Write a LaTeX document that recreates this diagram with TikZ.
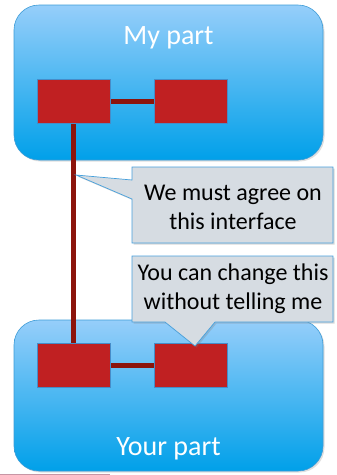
\documentclass[tikz,border=0pt]{standalone}
\usepackage{fontspec}
\setmainfont{Carlito}
\usetikzlibrary{shadows}

\definecolor{skytop}{RGB}{150,206,250}
\definecolor{skybottom}{RGB}{0,160,233}
\definecolor{skyedge}{RGB}{60,155,214}
\definecolor{blockred}{RGB}{192,32,34}
\definecolor{blockedge}{RGB}{70,140,200}
\definecolor{wirered}{RGB}{140,20,12}
\definecolor{notefill}{RGB}{214,220,226}
\definecolor{noteedge}{RGB}{70,160,220}
\definecolor{rulepink}{RGB}{200,150,165}

\tikzset{
  part/.style={draw=skyedge, line width=0.6pt, rounded corners=25pt,
    top color=skytop, bottom color=skybottom,
    drop shadow={opacity=0.25, shadow xshift=1.5pt, shadow yshift=-1.5pt},
    minimum width=309pt, inner sep=0pt},
  partlabel/.style={text=white, font=\fontsize{28}{32}\selectfont, inner sep=0pt},
  block/.style={fill=blockred, draw=blockedge, line width=0.6pt,
    minimum width=73pt, minimum height=44pt, inner sep=0pt},
  wire/.style={draw=wirered, line width=5pt},
  note/.style={fill=notefill, draw=noteedge, line width=0.7pt, line join=miter,
    drop shadow={opacity=0.3, shadow xshift=1.5pt, shadow yshift=-1.5pt}},
  notetext/.style={align=center, font=\fontsize{24}{29}\selectfont, inner sep=0pt}
}

\begin{document}
\begin{tikzpicture}[x=1pt, y=-1pt]
  \useasboundingbox (0,0) rectangle (337,475);

  % thin rule along the lower edge
  \draw[rulepink, line width=1pt] (0,474) -- (110,474);

  % the two parts
  \node[part, minimum height=155pt] (mine) at (168.5,82.5) {};
  \node[part, minimum height=151pt] (yours) at (168.5,395.5) {};
  \node[partlabel] (minelbl) at (168.5,38) {My part};
  \node[partlabel] (yourslbl) at (168.5,449) {Your part};

  % wiring behind the blocks
  \coordinate (tl) at (73.5,101);
  \coordinate (tr) at (191,101);
  \coordinate (bl) at (73.5,365);
  \coordinate (br) at (191,365);
  \draw[wire] (tl) -- (tr);
  \draw[wire] (bl) -- (br);
  \draw[wire] (tl) -- (bl);

  % blocks
  \node[block] (mineA) at (tl) {};
  \node[block] (mineB) at (tr) {};
  \node[block] (yoursA) at (bl) {};
  \node[block] (yoursB) at (br) {};

  % callout on the shared interface
  \coordinate (tip1) at (76,175);
  \path[note] (132,167) -- (333,167) -- (333,243) -- (132,243) -- (132,199)
     -- (tip1) -- (132,180) -- cycle;
  \node[notetext] (agree) at (233,207) {We must agree on\\this interface};

  % callout on the private part
  \coordinate (tip2) at (195,346);
  \path[note] (132,256) -- (333,256) -- (333,322) -- (215,322)
     -- (tip2) -- (165,322) -- (132,322) -- cycle;
  \node[notetext] (change) at (233,289) {You can change this\\without telling me};
\end{tikzpicture}
\end{document}
